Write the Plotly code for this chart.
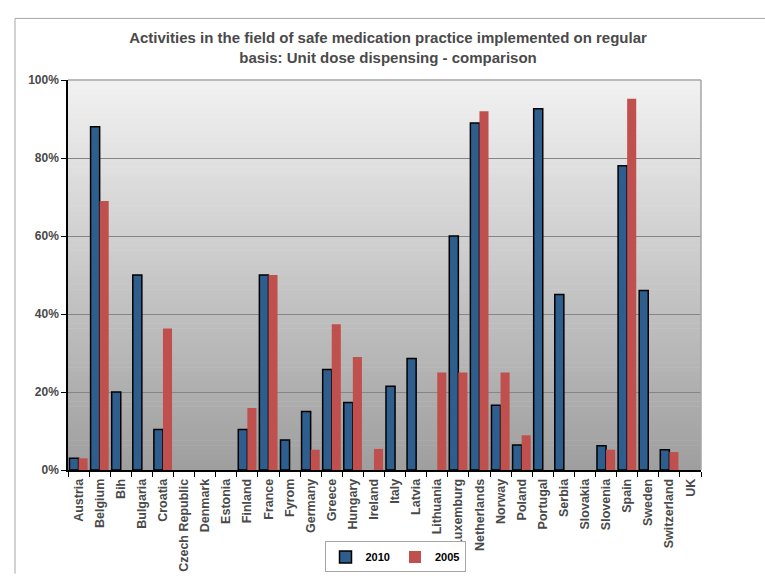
import plotly.graph_objects as go

countries = ["Austria", "Belgium", "Bih", "Bulgaria", "Croatia", "Czech Republic", "Denmark",
             "Estonia", "Finland", "France", "Fyrom", "Germany", "Greece", "Hungary", "Ireland",
             "Italy", "Latvia", "Lithuania", "Luxemburg", "Netherlands", "Norway", "Poland",
             "Portugal", "Serbia", "Slovakia", "Slovenia", "Spain", "Sweden", "Switzerland", "UK"]

# None = no bar for that country
vals_2010 = [3, 88, 20, 50, 10.4, None, None, None, 10.4, 50, 7.7, 15, 25.8, 17.3, None,
             21.5, 28.6, None, 60, 89, 16.6, 6.4, 92.6, 45, None, 6.2, 78, 46, 5.2, None]
vals_2005 = [3, 69, None, None, 36.3, None, None, None, 15.9, 50, None, 5.2, 37.4, 29, 5.4,
             None, None, 25, 25, 92, 25, 8.9, None, None, None, 5.2, 95.2, None, 4.6, None]

y_ticks = [0, 20, 40, 60, 80, 100]

# plot area in pixels (figure is 765 x 585)
W, H = 765, 585
L, R, T, B = 68, 701, 80, 479
pw, ph = R - L, B - T

def px_x(x):
    return (x - L) / pw

def px_y(y):
    return (B - y) / ph

fig = go.Figure()
fig.add_trace(go.Bar(x=countries, y=vals_2010, name="<b>2010</b>",
                     marker={"color": "#2E5E8E", "line": {"color": "#000000", "width": 1.5}}))
fig.add_trace(go.Bar(x=countries, y=vals_2005, name="<b>2005</b>",
                     marker={"color": "#C0504D", "line": {"width": 0}}))

# grey gradient background of the plot area
shapes = []
n = 80
top_c, bot_c = 242, 158
for i in range(n):
    c = round(top_c + (bot_c - top_c) * (i + 0.5) / n)
    shapes.append(dict(type="rect", xref="paper", yref="paper", layer="below",
                       x0=0, x1=1, y0=1 - (i + 1) / n, y1=1 - i / n + 0.001,
                       fillcolor="rgb(%d,%d,%d)" % (c, c, c), line={"width": 0}))
# plot border top / right
shapes.append(dict(type="line", xref="paper", yref="paper", x0=0, x1=1, y0=1, y1=1,
                   line={"color": "#A6A6A6", "width": 1.5}))
shapes.append(dict(type="line", xref="paper", yref="paper", x0=1, x1=1, y0=0, y1=1,
                   line={"color": "#A6A6A6", "width": 1.5}))
# outer chart frame
shapes.append(dict(type="line", xref="paper", yref="paper", x0=px_x(15), x1=px_x(W),
                   y0=px_y(17), y1=px_y(17), line={"color": "#A6A6A6", "width": 1}))
shapes.append(dict(type="line", xref="paper", yref="paper", x0=px_x(15), x1=px_x(15),
                   y0=px_y(17), y1=px_y(H), line={"color": "#A6A6A6", "width": 1}))

font_c = "#4A4A4A"
fig.update_layout(
    width=W, height=H,
    margin={"l": L, "r": W - R, "t": T, "b": H - B},
    paper_bgcolor="white", plot_bgcolor="rgba(0,0,0,0)",
    font={"family": "Liberation Sans, Arial, sans-serif", "color": font_c},
    title={"text": "<b>Activities in the field of safe medication practice implemented on regular<br>"
                   "basis: Unit dose dispensing - comparison</b>",
           "x": 388 / W, "xanchor": "center", "y": 1 - 43 / H, "yanchor": "middle",
           "font": {"size": 15, "color": font_c}},
    barmode="group", bargap=0.14, bargroupgap=0,
    shapes=shapes,
    showlegend=True,
    legend={"orientation": "h", "x": px_x(395), "xanchor": "center",
            "y": px_y(568), "yanchor": "middle",
            "bordercolor": "#A6A6A6", "borderwidth": 1, "bgcolor": "white",
            "font": {"size": 11, "color": "#000000"}, "itemwidth": 30,
            "tracegroupgap": 0},
)
fig.update_xaxes(type="category", tickangle=-90, tickson="boundaries",
                 ticks="outside", ticklen=5, tickcolor="#000000",
                 tickvals=countries, ticktext=["<b>" + c + "</b>" for c in countries],
                 showline=True, linecolor="#000000", linewidth=1.5,
                 showgrid=False, tickfont={"size": 12.5, "color": font_c},
                 ticklabelstandoff=2)
fig.update_yaxes(range=[0, 100], tickvals=y_ticks,
                 ticktext=["<b>" + str(v) + "%</b>" for v in y_ticks],
                 ticks="outside", ticklen=5, tickcolor="#000000",
                 showline=True, linecolor="#000000", linewidth=1.5,
                 showgrid=True, gridcolor="#858585", gridwidth=1,
                 zeroline=False, tickfont={"size": 12, "color": font_c})

fig.write_html("out.html", config={"displayModeBar": False},
               post_script="document.body.style.margin='0';")
